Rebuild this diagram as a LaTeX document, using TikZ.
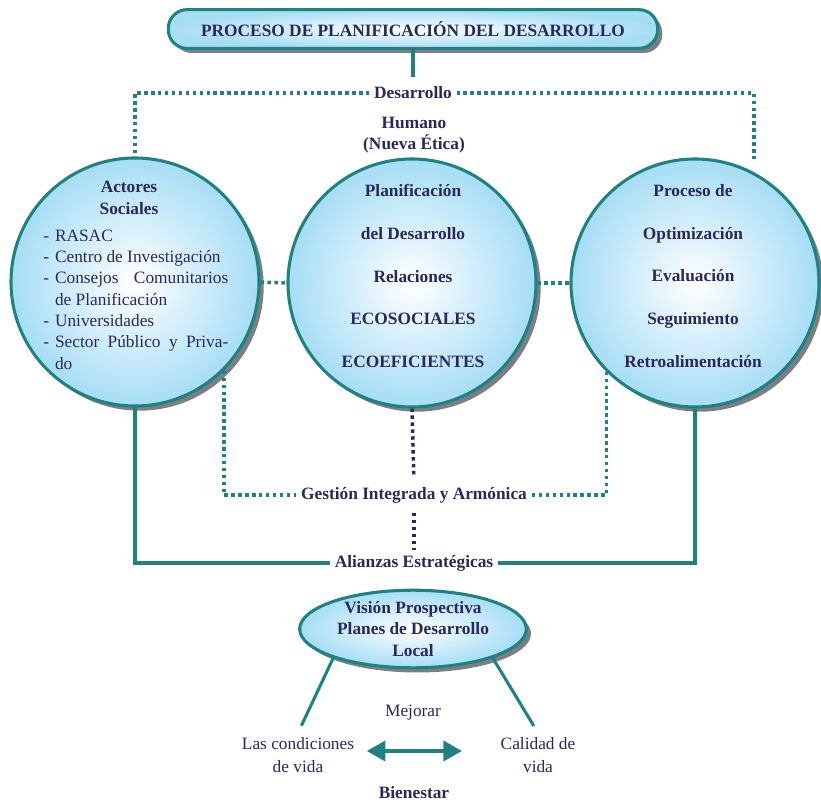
\documentclass[tikz,border=0pt]{standalone}
\usepackage{fontspec}
\setmainfont{Liberation Serif}
\usetikzlibrary{shadows,shapes.geometric,arrows.meta}

\definecolor{verde}{RGB}{30,130,128}
\definecolor{azul}{RGB}{42,40,90}
\definecolor{celeste}{RGB}{166,221,245}
\definecolor{sombra}{RGB}{125,125,132}

\begin{document}
\begin{tikzpicture}[x=0.75pt,y=-0.75pt,
	every node/.style={text=azul,font=\bfseries\fontsize{13}{15.6}\selectfont},
	normal/.style={font=\fontsize{13}{17}\selectfont},
	caja/.style={rectangle,rounded corners=14pt,draw=verde,line width=2.3pt,
		inner color=white,outer color=celeste,minimum width=367pt,minimum height=29pt,
		general shadow={fill=sombra,shadow xshift=3.5pt,shadow yshift=-3.5pt}},
	burbuja/.style={circle,draw=verde,line width=2.3pt,inner color=white,outer color=celeste,
		minimum size=186pt,general shadow={fill=sombra,shadow xshift=3.5pt,shadow yshift=-3.5pt}},
	ovalo/.style={ellipse,draw=verde,line width=2.3pt,inner color=white,outer color=celeste,
		minimum width=170pt,minimum height=57pt,inner sep=0pt,
		general shadow={fill=sombra,shadow xshift=3.5pt,shadow yshift=-3.5pt}},
	linea/.style={draw=verde,line width=2.3pt},
	punteado/.style={draw=verde,line width=2.6pt,dash pattern=on 2.6pt off 2.6pt},
	punteadoazul/.style={draw=azul,line width=2.6pt,dash pattern=on 2.6pt off 2.6pt},
	flecha/.style={draw=verde,line width=3pt,{Triangle[length=14pt,width=15pt]}-{Triangle[length=14pt,width=15pt]}}]
	\useasboundingbox (0,0) rectangle (821,802);

	% cabecera
	\node[caja] (titulo) at (413,29) {PROCESO DE PLANIFICACIÓN DEL DESARROLLO};
	\node (des) at (413,93) {Desarrollo};
	\node[align=center] (humano) at (414,135) {Humano\\(Nueva Ética)};

	% los tres circulos
	\node[burbuja] (actores) at (135,282) {};
	\node[burbuja] (planif) at (412,283) {};
	\node[burbuja] (optim) at (695,283) {};
	\coordinate (optimTop) at (754,159);

	\node[align=center,font=\bfseries\fontsize{13}{16.5}\selectfont] (actTit) at (129,198) {Actores\\Sociales};
	\node[anchor=west,inner sep=0pt,font=\fontsize{13}{16}\selectfont] (actLista) at (43,301) {%
		\begin{tabular}{@{}l@{\hspace{4.5pt}}l@{}}
			- & RASAC\\
			- & Centro de Investigación\\
			- & \makebox[130pt][s]{Consejos Comunitarios}\\
			  & de Planificación\\
			- & Universidades\\
			- & \makebox[130pt][s]{Sector Público y Priva-}\\
			  & do
		\end{tabular}};
	\node[align=center,font=\bfseries\fontsize{13}{32}\selectfont] (planTxt) at (413,276)
		{Planificación\\del Desarrollo\\Relaciones\\ECOSOCIALES\\ECOEFICIENTES};
	\node[align=center,font=\bfseries\fontsize{13}{32}\selectfont] (optTxt) at (693,276)
		{Proceso de\\Optimización\\Evaluación\\Seguimiento\\Retroalimentación};

	\node (gestion) at (414,495) {Gestión Integrada y Armónica};
	\node (alianzas) at (414,563) {Alianzas Estratégicas};

	% parte de abajo
	\node[ovalo,align=center,font=\bfseries\fontsize{13}{16}\selectfont] (vision) at (413,629)
		{Visión Prospectiva\\Planes de Desarrollo\\Local};
	\node[normal] (mejorar) at (413,713) {Mejorar};
	\node[normal,align=center] (condiciones) at (298,755) {Las condiciones\\de vida};
	\node[normal,align=center] (calidad) at (538,755) {Calidad de\\vida};
	\node (bienestar) at (414,793) {Bienestar};

	% conexiones
	\draw[linea,shorten >=4pt] (titulo.south) -- (des.north);
	\draw[punteado] (des.west) -| (actores.north);
	\draw[punteado] (des.east) -| (optimTop);
	\draw[punteado] (actores.east) -- (planif.west);
	\draw[punteado] (planif.east) -- (optim.west);
	\draw[punteado] (actores.-45) |- (gestion.west);
	\draw[punteado] (optim.-135) |- (gestion.east);
	\draw[punteadoazul,shorten >=6pt] (planif.south) -- (gestion.north);
	\draw[punteadoazul,shorten <=4pt] (gestion.south) -- (alianzas.north);
	\draw[linea] (actores.south) |- (alianzas.west);
	\draw[linea] (optim.south) |- (alianzas.east);
	\draw[linea,shorten >=6pt] (vision.200) -- (condiciones.north);
	\draw[linea,shorten >=6pt] (vision.-20) -- (calidad.north);
	\draw[flecha] ([shift={(8,-4)}]condiciones.east) -- ([shift={(-34,-4)}]calidad.west);
\end{tikzpicture}
\end{document}
